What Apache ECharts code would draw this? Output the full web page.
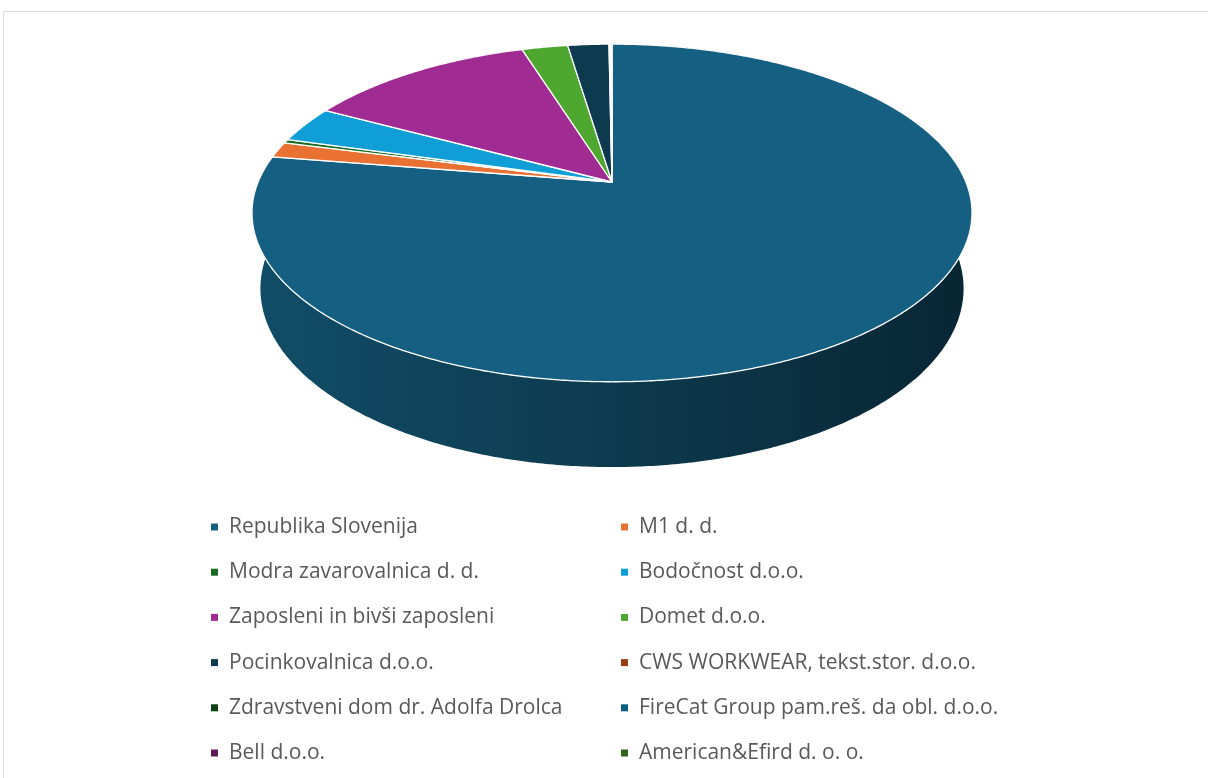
<!DOCTYPE html>
<html>
<head>
<meta charset="utf-8">
<script src="https://cdn.jsdelivr.net/npm/echarts@6/dist/echarts.min.js"></script>
<style>
  html, body { margin: 0; padding: 0; background: #ffffff; }
  #chart { width: 1208px; height: 778px; }
</style>
</head>
<body>
<div id="chart"></div>
<script>
// ---- data ----
const categories = [
  'Republika Slovenija',
  'M1 d. d.',
  'Modra zavarovalnica d. d.',
  'Bodočnost d.o.o.',
  'Zaposleni in bivši zaposleni',
  'Domet d.o.o.',
  'Pocinkovalnica d.o.o.',
  'CWS WORKWEAR, tekst.stor. d.o.o.',
  'Zdravstveni dom dr. Adolfa Drolca',
  'FireCat Group pam.reš. da obl. d.o.o.',
  'Bell d.o.o.',
  'American&Efird d. o. o.'
];
const values = [77.4, 1.5, 0.35, 3.5, 12.25, 2.46, 2.2, 0.05, 0.04, 0.03, 0.02, 0.02];

// ---- styles ----
const colors = ['#156082', '#E97132', '#196B24', '#0F9ED5', '#A02B93', '#4EA72E',
                '#0E3A50', '#9A3D12', '#0F4016', '#0B5F80', '#601A58', '#2F641C'];

// ---- projection (3D pie, perspective) ----
const CX = 612, CY = 182;      // projected centre of the top face
const KR = 353.9;              // focal * radius / distance
const RR = 0.2067;             // radius / distance
const SIN_E = 0.461, COS_E = 0.887;
const DEPTH = 0.243;           // pie thickness relative to radius

function project(x, y, z) {
  const d = 1 + RR * (y * COS_E - z * SIN_E);
  const up = RR * (y * SIN_E + z * COS_E);
  return [CX + KR * x / d, CY - (KR / RR) * up / d];
}
function rim(deg, z) {
  const a = deg * Math.PI / 180;
  return project(Math.sin(a), Math.cos(a), z);
}
function shade(hex, f) {
  const n = parseInt(hex.slice(1), 16);
  const r = Math.round(((n >> 16) & 255) * f), g = Math.round(((n >> 8) & 255) * f), b = Math.round((n & 255) * f);
  return 'rgb(' + r + ',' + g + ',' + b + ')';
}

const total = values.reduce((s, v) => s + v, 0);
const spans = [];
let acc = 0;
values.forEach(v => {
  const s = acc / total * 360;
  acc += v;
  spans.push([s, acc / total * 360, v]);
});

function wallPiece(a0, a1, fill, z2) {
  const pts = [];
  const m = Math.max(2, Math.ceil((a1 - a0) / 0.5));
  for (let i = 0; i <= m; i++) pts.push(rim(a0 + (a1 - a0) * i / m, 0));
  for (let i = m; i >= 0; i--) pts.push(rim(a0 + (a1 - a0) * i / m, -DEPTH));
  return { type: 'polygon', z2: z2, shape: { points: pts }, style: { fill: fill } };
}

function makeRender(idx) {
  return function (params, api) {
    const s = api.value(0), e = api.value(1);
    const col = colors[idx];
    const children = [];
    const grad = {
      type: 'linear', x: 252, y: 0, x2: 972, y2: 0, global: true,
      colorStops: [
        { offset: 0, color: shade(col, 0.80) },
        { offset: 0.5, color: shade(col, 0.60) },
        { offset: 1, color: shade(col, 0.40) }
      ]
    };
    // back walls (mostly hidden) then front walls
    const ranges = [[0, 90, 1], [90, 270, 2], [270, 360, 1]];
    ranges.forEach(r => {
      const a0 = Math.max(s, r[0]), a1 = Math.min(e, r[1]);
      if (a1 > a0) children.push(wallPiece(a0, a1, grad, r[2]));
    });
    // top face
    const tp = [[CX, CY]];
    const n2 = Math.max(2, Math.ceil((e - s) / 0.4));
    for (let i = 0; i <= n2; i++) tp.push(rim(s + (e - s) * i / n2, 0));
    children.push({
      type: 'polygon',
      z2: 10,
      shape: { points: tp },
      style: { fill: col, stroke: '#ffffff', lineWidth: 1.3, lineJoin: 'round' }
    });
    return { type: 'group', children: children };
  };
}

const series = categories.map((name, i) => ({
  type: 'custom',
  name: name,
  coordinateSystem: 'none',
  silent: true,
  animation: false,
  itemStyle: { color: colors[i] },
  renderItem: makeRender(i),
  data: [spans[i]]
}));

const legendText = { color: '#595959', fontSize: 21, fontFamily: 'Open Sans', lineHeight: 24, padding: [0, 0, 0, 6] };
const option = {
  animation: false,
  color: colors,
  graphic: [{
    type: 'rect',
    shape: { x: 3.5, y: 11.5, width: 1300, height: 900 },
    style: { fill: 'none', stroke: '#d9d9d9', lineWidth: 1 },
    silent: true
  }],
  legend: [
    {
      orient: 'vertical', left: 211, top: 515, padding: 0, itemGap: 21.2,
      itemWidth: 7, itemHeight: 7, icon: 'rect', selectedMode: false,
      textStyle: legendText,
      data: categories.filter((c, i) => i % 2 === 0)
    },
    {
      orient: 'vertical', left: 621, top: 515, padding: 0, itemGap: 21.2,
      itemWidth: 7, itemHeight: 7, icon: 'rect', selectedMode: false,
      textStyle: legendText,
      data: categories.filter((c, i) => i % 2 === 1)
    }
  ],
  series: series
};

const chart = echarts.init(document.getElementById('chart'), null, { renderer: 'canvas' });
chart.setOption(option);
</script>
</body>
</html>
